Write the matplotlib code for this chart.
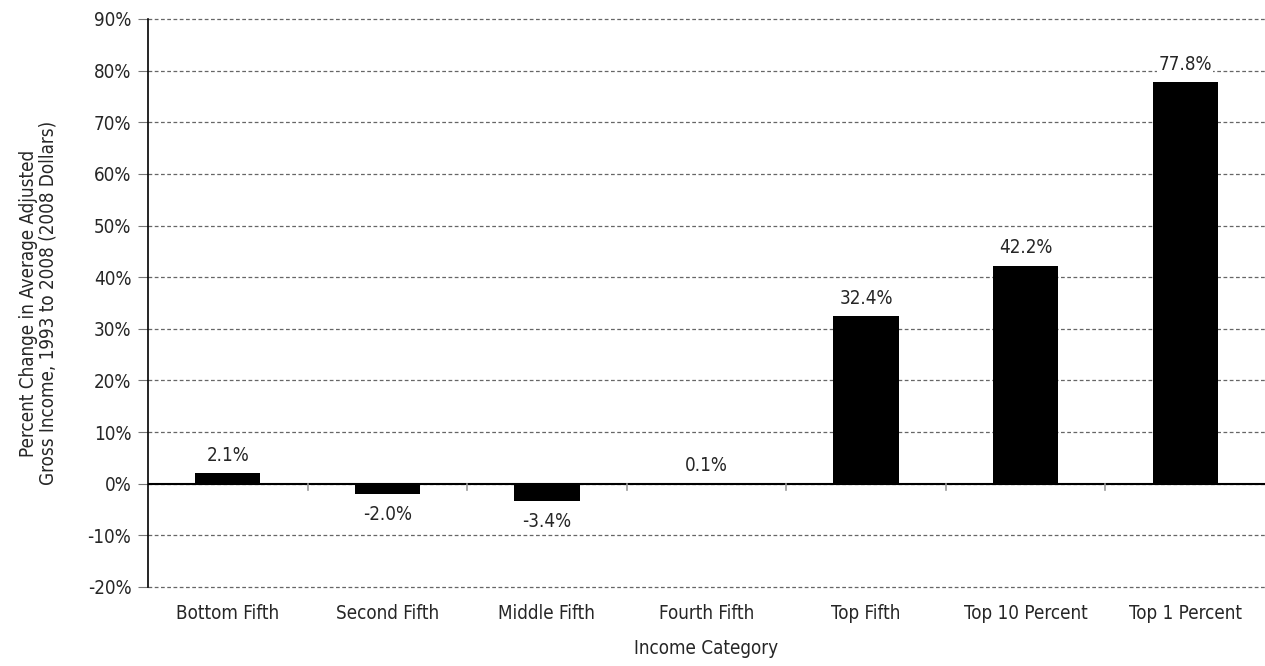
import numpy as np
import matplotlib.pyplot as plt
from matplotlib.ticker import FuncFormatter

categorias = ["Bottom Fifth", "Second Fifth", "Middle Fifth", "Fourth Fifth",
              "Top Fifth", "Top 10 Percent", "Top 1 Percent"]
cambios = [2.1, -2.0, -3.4, 0.1, 32.4, 42.2, 77.8]
ticks_y = list(range(-20, 91, 10))

plt.rcParams['font.family'] = ['DejaVu Sans']
plt.rcParams['font.stretch'] = 'condensed'
texto = "#262626"
tam = 13.5

fig = plt.figure(figsize=(12.65, 6.66), dpi=100)
ax = fig.add_axes([148 / 1265, 1 - 587 / 666, 1 - 148 / 1265, (587 - 19) / 666])

x = np.arange(len(categorias))
ax.bar(x, cambios, width=0.41, color="black", zorder=3)

# etiquetas de valor con fondo blanco (tapan la cuadricula)
for xi, v in zip(x, cambios):
    if v >= 0:
        ax.annotate(f"{v:.1f}%", (xi, v), xytext=(0, 6), textcoords="offset points",
                    ha="center", va="bottom", fontsize=tam, color=texto, zorder=4,
                    bbox=dict(facecolor="white", edgecolor="none", pad=1))
    else:
        ax.annotate(f"{v:.1f}%", (xi, v), xytext=(0, -8), textcoords="offset points",
                    ha="center", va="top", fontsize=tam, color=texto, zorder=4,
                    bbox=dict(facecolor="white", edgecolor="none", pad=1))

ax.set_xlim(-0.5, len(categorias) - 0.5)
ax.set_ylim(-20, 90)
ax.set_yticks(ticks_y)
ax.yaxis.set_major_formatter(FuncFormatter(lambda v, p: f"{v:.0f}%"))
ax.grid(axis="y", linestyle=(0, (3, 2)), color="#666666", linewidth=0.9, zorder=0)
for gl in ax.get_ygridlines():
    gl.set_clip_on(False)

# linea del cero y separadores de categoria
ax.axhline(0, color="black", linewidth=1.5, zorder=3)
for b in np.arange(0.5, len(categorias) - 1, 1.0):
    ax.plot([b, b], [0, -1.2], color="#999999", linewidth=1.2, zorder=3, clip_on=False)

ax.set_xticks(x)
ax.set_xticklabels(categorias)
ax.tick_params(axis="x", length=0, pad=12, labelsize=tam, labelcolor=texto)
ax.tick_params(axis="y", length=7, width=0.8, color="#777777", pad=5, labelsize=tam, labelcolor=texto)

for s in ["top", "right", "bottom"]:
    ax.spines[s].set_visible(False)
ax.spines["left"].set_linewidth(1.2)
ax.spines["left"].set_color("black")

ax.set_xlabel("Income Category", fontsize=tam, color=texto, labelpad=12)
ax.set_ylabel("Percent Change in Average Adjusted\nGross Income, 1993 to 2008 (2008 Dollars)",
              fontsize=tam, color=texto, labelpad=22, linespacing=1.0)

fig.savefig("out.png", dpi=100)
